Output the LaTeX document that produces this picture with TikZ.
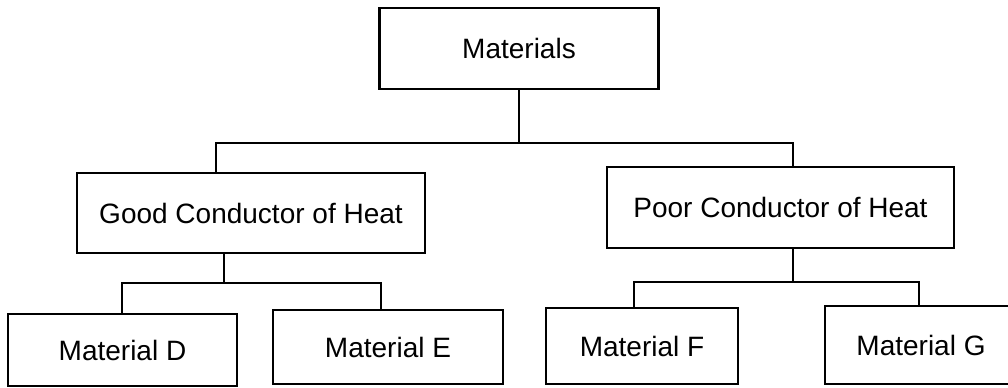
\documentclass[tikz,border=0pt]{standalone}
\usepackage{fontspec}
\setmainfont{Liberation Sans}

\begin{document}
\begin{tikzpicture}[x=0.5pt, y=-0.5pt, line width=1.1pt,
  box/.style={draw, rectangle, inner sep=0pt, font=\fontsize{14}{16}\selectfont}]
  \useasboundingbox (0,0) rectangle (1008,387);
  \node[box, minimum width=139.5pt, minimum height=40.5pt] (mat) at (519,48.5) {Materials};
  \node[box, minimum width=174pt, minimum height=40pt] (good) at (251,213) {Good Conductor of Heat};
  \node[box, minimum width=173.5pt, minimum height=40.5pt] (poor) at (780.5,207.5) {Poor Conductor of Heat};
  \node[box, minimum width=114.5pt, minimum height=36pt] (matD) at (122.5,350) {Material D};
  \node[box, minimum width=115pt, minimum height=37pt] (matE) at (388,347) {Material E};
  \node[box, minimum width=96pt, minimum height=38pt] (matF) at (642,346) {Material F};
  \node[box, minimum width=96pt, minimum height=39pt] (matG) at (921,345) {Material G};
  % Junction points of the tree
  \coordinate (jL) at (216,143);
  \coordinate (jR) at (793,143);
  \coordinate (gM) at (224,283);
  \coordinate (gL) at (122,283);
  \coordinate (gR) at (381,283);
  \coordinate (pM) at (793,282);
  \coordinate (pL) at (634,282);
  \coordinate (pR) at (919,282);
  % Draw the branches
  \draw (mat.south) -- (mat.south |- jL);
  \draw (jL |- good.north) -- (jL) -- (jR) -- (jR |- poor.north);
  \draw (gM |- good.south) -- (gM);
  \draw (gL |- matD.north) -- (gL) -- (gR) -- (gR |- matE.north);
  \draw (pM |- poor.south) -- (pM);
  \draw (pL |- matF.north) -- (pL) -- (pR) -- (pR |- matG.north);
\end{tikzpicture}
\end{document}
